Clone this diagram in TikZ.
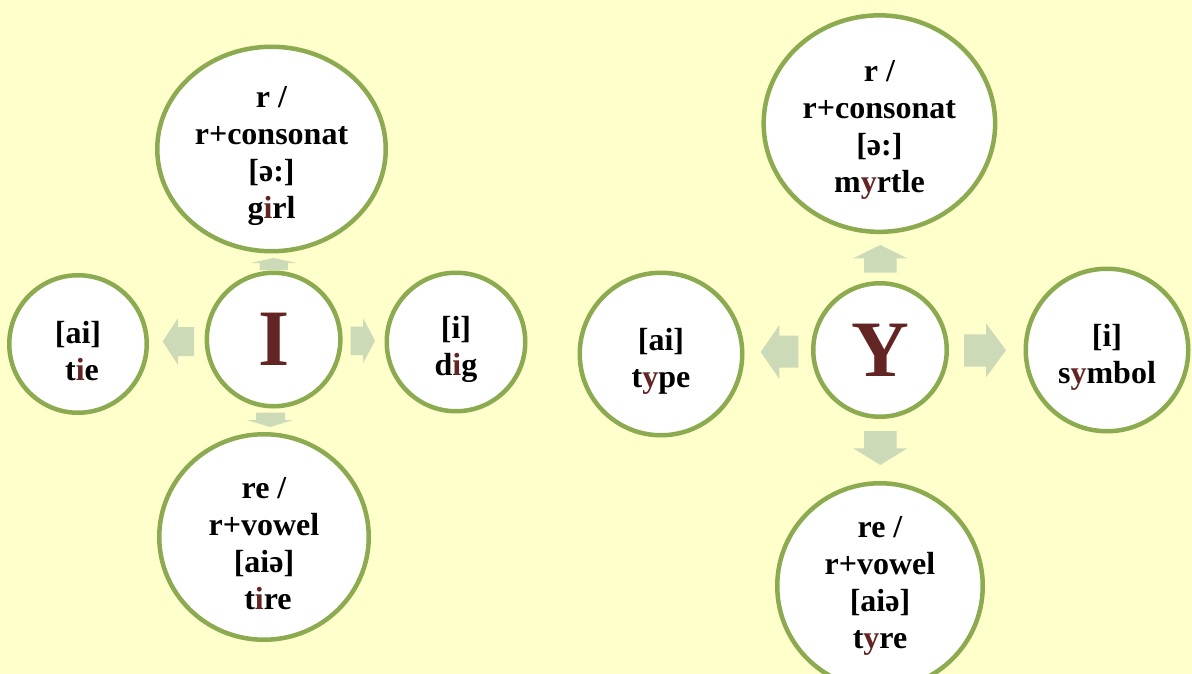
\documentclass[tikz,border=0pt]{standalone}
\usepackage{fontspec}
\setmainfont{Liberation Serif}
\usetikzlibrary{shapes.geometric}
\definecolor{bgyellow}{HTML}{FFFFCC}
\definecolor{ringgreen}{HTML}{8CAB50}
\definecolor{arrowgreen}{HTML}{CCDAB8}
\definecolor{letterred}{HTML}{632523}
\newcommand{\rl}[1]{\textcolor{letterred}{#1}}
\begin{document}
\begin{tikzpicture}[x=1pt,y=-1pt,
  ring/.style={ellipse, draw=ringgreen, line width=4.5pt, fill=white, inner sep=0pt},
  ringtext/.style={inner sep=0pt, align=center, font=\bfseries\fontsize{32}{37}\selectfont},
  bigletter/.style={ring, font=\bfseries\fontsize{80}{80}\selectfont, text=letterred},
  blockarrow/.style={fill=arrowgreen, draw=none}]
\fill[bgyellow] (0,0) rectangle (1192,674);
\useasboundingbox (0,0) rectangle (1192,674);

% ---------- left group (I) ----------
\node[bigletter, minimum width=133.5pt, minimum height=133.5pt] (I) at (273.6,339.5) {I};
\node[ring, minimum width=228.5pt, minimum height=204.5pt] (itop) at (271.5,149) {};
\node[ringtext] (itop-t) at ([yshift=-7pt]itop.center) {r /\\r+consonat\\{}[ə:]\\g\rl{i}rl};
\node[ring, minimum width=137.5pt, minimum height=137.5pt] (ileft) at (78,344) {};
\node[ringtext] (ileft-t) at ([yshift=-7pt]ileft.center) {{}[ai]\\\hspace*{8pt}t\rl{i}e};
\node[ring, minimum width=138.5pt, minimum height=138.5pt] (iright) at (456,342) {};
\node[ringtext] (iright-t) at ([yshift=-7pt]iright.center) {{}[i]\\d\rl{i}g};
\node[ring, minimum width=209.5pt, minimum height=205.5pt] (ibot) at (264,537) {};
\node[ringtext] (ibot-t) at ([yshift=-7pt]ibot.center) {re /\\r+vowel\\{}[aiə]\\\hspace*{8pt}t\rl{i}re};

% arrows
\fill[blockarrow] (259.5,270) -- (259.5,263) -- (250.7,263) -- (273.6,258) -- (296.6,263) -- (287.8,263) -- (287.8,270) -- cycle;
\fill[blockarrow] (256,412.7) -- (285,412.7) -- (285,420) -- (293,420) -- (270,427) -- (246.7,420) -- (256,420) -- cycle;
\fill[blockarrow] (194,327) -- (194,356) -- (178,356) -- (178,365) -- (162.7,341.5) -- (178,318) -- (178,327) -- cycle;
\fill[blockarrow] (350.7,326.7) -- (363,326.7) -- (363,318) -- (375,340.7) -- (363,363.3) -- (363,355) -- (350.7,355) -- cycle;

% ---------- right group (Y) ----------
\node[bigletter, minimum width=133.5pt, minimum height=133.5pt] (Y) at (880,350) {Y};
\node[ring, minimum width=231.5pt, minimum height=216.5pt] (ytop) at (879.4,123.6) {};
\node[ringtext] (ytop-t) at ([yshift=-6pt]ytop.center) {r /\\r+consonat\\{}[ə:]\\m\rl{y}rtle};
\node[ring, minimum width=162.5pt, minimum height=162.5pt] (yleft) at (661,354) {};
\node[ringtext] (yleft-t) at ([yshift=-7pt]yleft.center) {{}[ai]\\t\rl{y}pe};
\node[ring, minimum width=162.5pt, minimum height=162.5pt] (yright) at (1107,350) {};
\node[ringtext] (yright-t) at ([yshift=-7pt]yright.center) {{}[i]\\s\rl{y}mbol};
\node[ring, minimum width=205.5pt, minimum height=205.5pt] (ybot) at (880,586) {};
\node[ringtext] (ybot-t) at ([yshift=0pt]ybot.center) {re /\\r+vowel\\{}[aiə]\\t\rl{y}re};

% arrows
\fill[blockarrow] (864,272.7) -- (864,258.3) -- (853.3,258.3) -- (880.3,245) -- (907.3,258.3) -- (896.7,258.3) -- (896.7,272.7) -- cycle;
\fill[blockarrow] (864,431) -- (896.7,431) -- (896.7,448.3) -- (907.3,448.3) -- (880.3,465) -- (853.3,448.3) -- (864,448.3) -- cycle;
\fill[blockarrow] (798.3,335.7) -- (798.3,367.7) -- (779.3,367.7) -- (779.3,379) -- (760.7,352) -- (779.3,325) -- (779.3,335.7) -- cycle;
\fill[blockarrow] (964,334.3) -- (986,334.3) -- (986,323.3) -- (1006,350.3) -- (986,377.3) -- (986,366.7) -- (964,366.7) -- cycle;
\end{tikzpicture}
\end{document}
